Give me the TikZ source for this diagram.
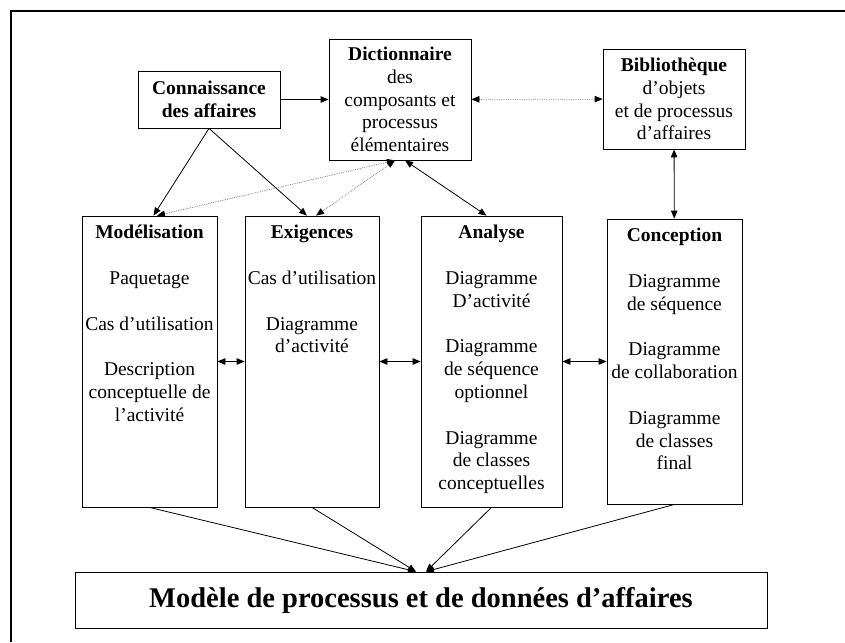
\documentclass[tikz,border=0pt]{standalone}
\usepackage{fontspec}
\setmainfont{Liberation Serif}
\usepackage{tikz}
\usetikzlibrary{arrows.meta,positioning}
\newlength{\gap}\setlength{\gap}{22.8pt}
\newcommand{\colbody}[3]{\parbox[c][#1][t]{#2}{\centering\vspace*{7pt}\strut #3}}
\begin{document}
\begin{tikzpicture}[x=1pt, y=-1pt, line width=0.8pt, >={Triangle[length=8pt,width=6.5pt,color=black]},
box node/.style={draw,align=center,inner sep=0pt},
col node/.style={draw,inner sep=0pt},
dot line/.style={densely dotted,draw=gray}]
\useasboundingbox (0,0) rectangle (845,642);
\draw[line width=2.5pt] (11,642) -- (11,11) -- (845,11);%frame
\begin{scope}[every node/.style={font=\fontsize{19.5}{22.8}\selectfont}]
\node[box node, minimum width=142, minimum height=57] (conn) at (209,99.5) {\textbf{Connaissance}\\\textbf{des affaires}};
\node[box node, minimum width=142, minimum height=121] (dict) at (400,99.5) {\textbf{Dictionnaire}\\des\\composants et\\processus\\élémentaires};
\node[box node, minimum width=142, minimum height=100] (bib) at (674,99) {\textbf{Bibliothèque}\\d’objets\\et de processus\\d’affaires};
\node[col node] (mod) at (149.5,361.5) {\colbody{291pt}{135pt}{\textbf{Modélisation}\\[\gap] Paquetage\\[\gap] Cas d’utilisation\\[\gap] Description\\ conceptuelle de\\ l’activité}};
\node[col node] (exi) at (312,361.5) {\colbody{291pt}{134pt}{\textbf{Exigences}\\[\gap] Cas d’utilisation\\[\gap] Diagramme\\ d’activité}};
\node[col node] (ana) at (491.5,361.5) {\colbody{291pt}{141pt}{\textbf{Analyse}\\[\gap] Diagramme\\ D’activité\\[\gap] Diagramme\\ de séquence\\ optionnel\\[\gap] Diagramme\\ de classes\\ conceptuelles}};
\node[col node] (con) at (674.5,361.5) {\colbody{285pt}{135pt}{\textbf{Conception}\\[\gap] Diagramme\\ de séquence\\[\gap] Diagramme\\ de collaboration\\[\gap] Diagramme\\ de classes\\ final}};
\node[box node, minimum width=692, minimum height=56, font=\fontsize{28.5}{34}\selectfont\bfseries] (mdl) at (421,600) {Modèle de processus et de données d’affaires};
\end{scope}
\begin{scope}
\draw (conn) edge[->] (dict);
\draw (dict) edge[<->, dot line] (bib);
\draw (bib) edge[<->] (con);
\draw (conn.south) edge[->] ([xshift=4]mod.north);
\draw (conn.south) edge[->] ([xshift=-5]exi.north);
\draw ([xshift=-5]dict.south) edge[<->, dot line] ([xshift=7.5]mod.north);
\draw ([xshift=-5]dict.south) edge[<->, dot line] ([xshift=4]exi.north);
\draw ([xshift=5]dict.south) edge[<->] ([xshift=-5]ana.north);
\draw (mod) edge[<->] (exi);
\draw (exi) edge[<->] (ana);
\draw (ana) edge[<->] (con);
\draw (mod.south) edge[->] ([xshift=-5]mdl.north);
\draw (exi.south) edge[->] ([xshift=-5]mdl.north);
\draw (ana.south) edge[->] ([xshift=5]mdl.north);
\draw (con.south) edge[->] ([xshift=5]mdl.north);
\end{scope}
\end{tikzpicture}
\end{document}
